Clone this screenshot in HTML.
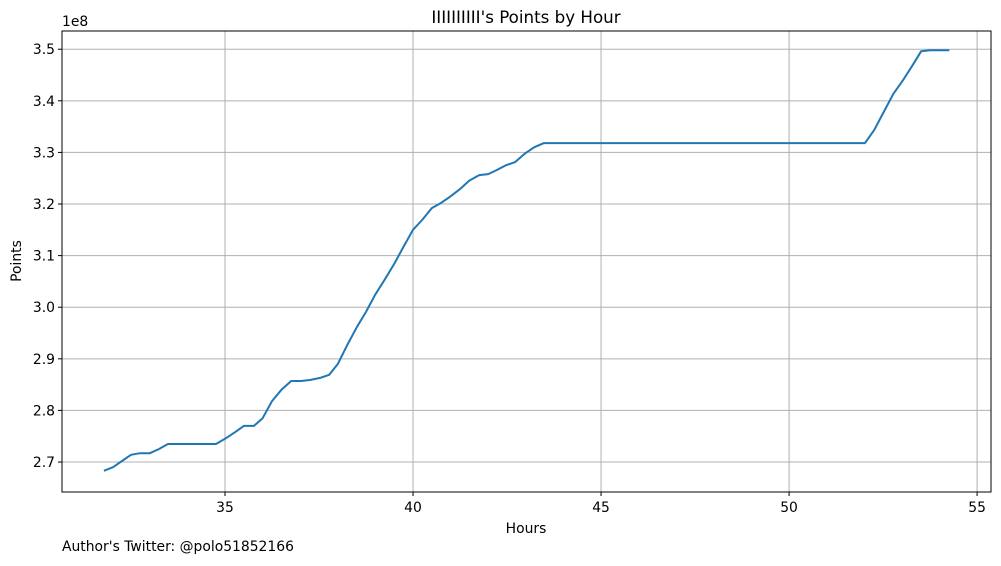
<!DOCTYPE html>
<html><head><meta charset="utf-8"><style>
body{margin:0;background:#fff;font-family:"DejaVu Sans","Liberation Sans",sans-serif;}
svg text{font-family:"DejaVu Sans","Liberation Sans",sans-serif;fill:#000;}
</style></head><body>
<svg id="chart" width="1001" height="562" xmlns="http://www.w3.org/2000/svg">
<rect width="1001" height="562" fill="#fff"/>
<text x="526" y="23" text-anchor="middle" font-size="16.7">IIIIIIIIII's Points by Hour</text>
<g id="grid"></g>
<polyline id="line" fill="none" stroke="#1f77b4" stroke-width="2" stroke-linejoin="round"/>
<rect x="62" y="31" width="929" height="461" fill="none" stroke="#000" stroke-width="1"/>
<g id="ticks"></g>
<text x="62" y="26" font-size="13.9">1e8</text>
<text x="526" y="533" text-anchor="middle" font-size="13.9">Hours</text>
<text transform="translate(21,261) rotate(-90)" text-anchor="middle" font-size="13.9">Points</text>
<text x="62" y="551" font-size="13.9">Author's Twitter: @polo51852166</text>
</svg>
<script>
const hours=[31.78,32.02,32.26,32.5,32.74,33.0,33.24,33.48,34.76,35.0,35.27,35.5,35.77,36.0,36.25,36.5,36.76,37.02,37.26,37.53,37.77,38.0,38.24,38.51,38.75,38.99,39.26,39.5,39.73,40.0,40.24,40.5,40.74,40.98,41.25,41.49,41.76,42.0,42.23,42.47,42.71,42.98,43.22,43.48,52.02,52.26,52.53,52.77,53.03,53.27,53.51,53.75,54.26];
const points=[2.683,2.690,2.702,2.714,2.717,2.717,2.725,2.735,2.735,2.745,2.758,2.770,2.770,2.785,2.818,2.840,2.857,2.857,2.859,2.863,2.869,2.890,2.925,2.962,2.991,3.024,3.055,3.084,3.115,3.150,3.169,3.192,3.202,3.214,3.229,3.245,3.256,3.258,3.266,3.275,3.281,3.298,3.310,3.318,3.318,3.343,3.380,3.413,3.440,3.467,3.496,3.498,3.498];
const xTicks=[35,40,45,50,55];
const yTicks=[2.7,2.8,2.9,3.0,3.1,3.2,3.3,3.4,3.5];
const L=62,R=991,T=31,B=492,x0=30.665,x1=55.37,y0=2.6419,y1=3.5353;
const sx=h=>L+(h-x0)/(x1-x0)*(R-L);
const sy=v=>B-(v-y0)/(y1-y0)*(B-T);
const NS="http://www.w3.org/2000/svg";
const grid=document.getElementById('grid'),ticks=document.getElementById('ticks');
function mk(tag,attrs,parent){const e=document.createElementNS(NS,tag);for(const k in attrs)e.setAttribute(k,attrs[k]);parent.appendChild(e);return e;}
xTicks.forEach(t=>{const x=sx(t);
 const g=mk('line',{x1:x,x2:x,y1:T,y2:B,stroke:'#b0b0b0','stroke-width':1},grid);
 
 
 mk('line',{x1:x,x2:x,y1:B,y2:B+4,stroke:'#000'},ticks);
 const l=mk('text',{x:x,y:B+20,'text-anchor':'middle','font-size':13.9},ticks);l.textContent=t;
 
 });
yTicks.forEach(t=>{const y=sy(t);
 const g=mk('line',{x1:L,x2:R,y1:y,y2:y,stroke:'#b0b0b0','stroke-width':1},grid);
 
 
 mk('line',{x1:L-4,x2:L,y1:y,y2:y,stroke:'#000'},ticks);
 const l=mk('text',{x:L-7,y:y+5,'text-anchor':'end','font-size':13.9},ticks);l.textContent=t.toFixed(1);
 
 });
document.getElementById('line').setAttribute('points',hours.map((h,i)=>sx(h).toFixed(1)+','+sy(points[i]).toFixed(1)).join(' '));
</script>
</body></html>
